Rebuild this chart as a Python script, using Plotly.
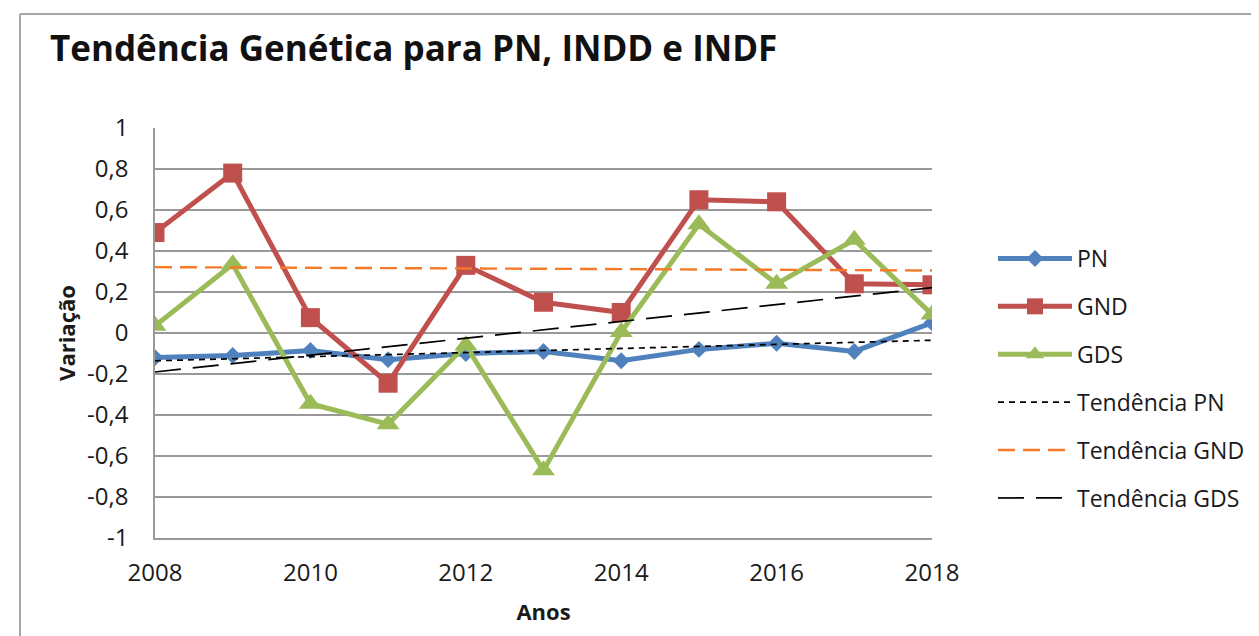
import numpy as np
import plotly.graph_objects as go

years = [2008, 2009, 2010, 2011, 2012, 2013, 2014, 2015, 2016, 2017, 2018]
pn = [-0.12, -0.11, -0.085, -0.13, -0.10, -0.09, -0.135, -0.08, -0.05, -0.09, 0.05]
gnd = [0.49, 0.78, 0.075, -0.245, 0.33, 0.15, 0.10, 0.65, 0.64, 0.24, 0.235]
gds = [0.035, 0.335, -0.345, -0.445, -0.06, -0.67, 0.005, 0.53, 0.24, 0.455, 0.09]

y_tickvals = [1, 0.8, 0.6, 0.4, 0.2, 0, -0.2, -0.4, -0.6, -0.8, -1]
y_ticktext = ["1", "0,8", "0,6", "0,4", "0,2", "0", "-0,2", "-0,4", "-0,6", "-0,8", "-1"]
x_tickvals = [2008, 2010, 2012, 2014, 2016, 2018]
x_ticktext = ["2008", "2010", "2012", "2014", "2016", "2018"]

FONT = "Open Sans"
O = 8  # page body margin
PW, PH = 1259, 636
W, H = PW - O, PH - O
L, R, T, B = 155, 327, 128, 98  # page coordinates of plot area edges
pw, ph = PW - L - R, PH - T - B


def trend(vals):
    k, c = np.polyfit(years, vals, 1)
    xs = [years[0], years[-1]]
    return xs, [k * x + c for x in xs]


fig = go.Figure()
series = [
    ("PN", pn, "#4F81BD", "diamond", 13),
    ("GND", gnd, "#C0504D", "square", 19),
    ("GDS", gds, "#9BBB59", "triangle-up", 20),
]
for i, (name, vals, col, sym, sz) in enumerate(series):
    fig.add_trace(go.Scatter(
        x=years, y=vals, name=name, mode="lines+markers",
        line=dict(color=col, width=5),
        marker=dict(symbol=sym, size=sz, color=col, line=dict(width=0)),
        legendgroup=f"g{i}",
    ))

trends = [
    ("Tendência PN", pn, "#000000", "6px,5px", 1.7),
    ("Tendência GND", gnd, "#F47A2A", "17px,8px", 2.4),
    ("Tendência GDS", gds, "#000000", "26px,12px", 1.7),
]
for i, (name, vals, col, dash, w) in enumerate(trends):
    tx, ty = trend(vals)
    fig.add_trace(go.Scatter(
        x=tx, y=ty, name=name, mode="lines",
        line=dict(color=col, width=w, dash=dash),
        legendgroup=f"t{i}",
    ))

gray = "#A6A6A6"
px_x = lambda p: (p - L) / pw
px_y = lambda p: (PH - B - p) / ph
shapes = [
    dict(type="line", xref="paper", yref="paper", x0=px_x(20), x1=px_x(PW + 5),
         y0=px_y(14), y1=px_y(14), line=dict(color=gray, width=2)),
    dict(type="line", xref="paper", yref="paper", x0=px_x(20), x1=px_x(20),
         y0=px_y(14), y1=px_y(PH + 5), line=dict(color=gray, width=2)),
]

fig.update_layout(
    width=W, height=H,
    margin=dict(l=L - O, r=R, t=T - O, b=B, autoexpand=False),
    paper_bgcolor="white", plot_bgcolor="white",
    font=dict(family=FONT, size=24, color="#1a1a1a"),
    title=dict(text="<b>Tendência Genética para PN, INDD e INDF</b>",
               xref="container", yref="container",
               x=(50 - O) / W, xanchor="left", y=1 - (49 - O) / H, yanchor="middle",
               font=dict(family=FONT, size=35, color="#111111")),
    shapes=shapes,
    showlegend=True,
    legend=dict(x=px_x(993), xanchor="left", y=px_y(237), yanchor="top",
                font=dict(family=FONT, size=23, color="#1a1a1a"),
                tracegroupgap=15, traceorder="grouped",
                itemwidth=74, bgcolor="rgba(0,0,0,0)"),
    xaxis=dict(range=[2008, 2018], tickvals=x_tickvals, ticktext=x_ticktext,
               showgrid=False, zeroline=False, showline=True, linecolor="#999999",
               linewidth=1.5, ticks="", ticklabelstandoff=12,
               title=dict(text="<b>Anos</b>", font=dict(size=22), standoff=18)),
    yaxis=dict(range=[-1, 1], tickvals=y_tickvals, ticktext=y_ticktext,
               showgrid=True, gridcolor="#999999", gridwidth=1.6,
               zeroline=False, showline=True, linecolor="#999999", linewidth=1.6,
               ticks="", ticklabelstandoff=20,
               title=dict(text="<b>Variação</b>", font=dict(size=22), standoff=5)),
)

fig.write_html("out.html")
